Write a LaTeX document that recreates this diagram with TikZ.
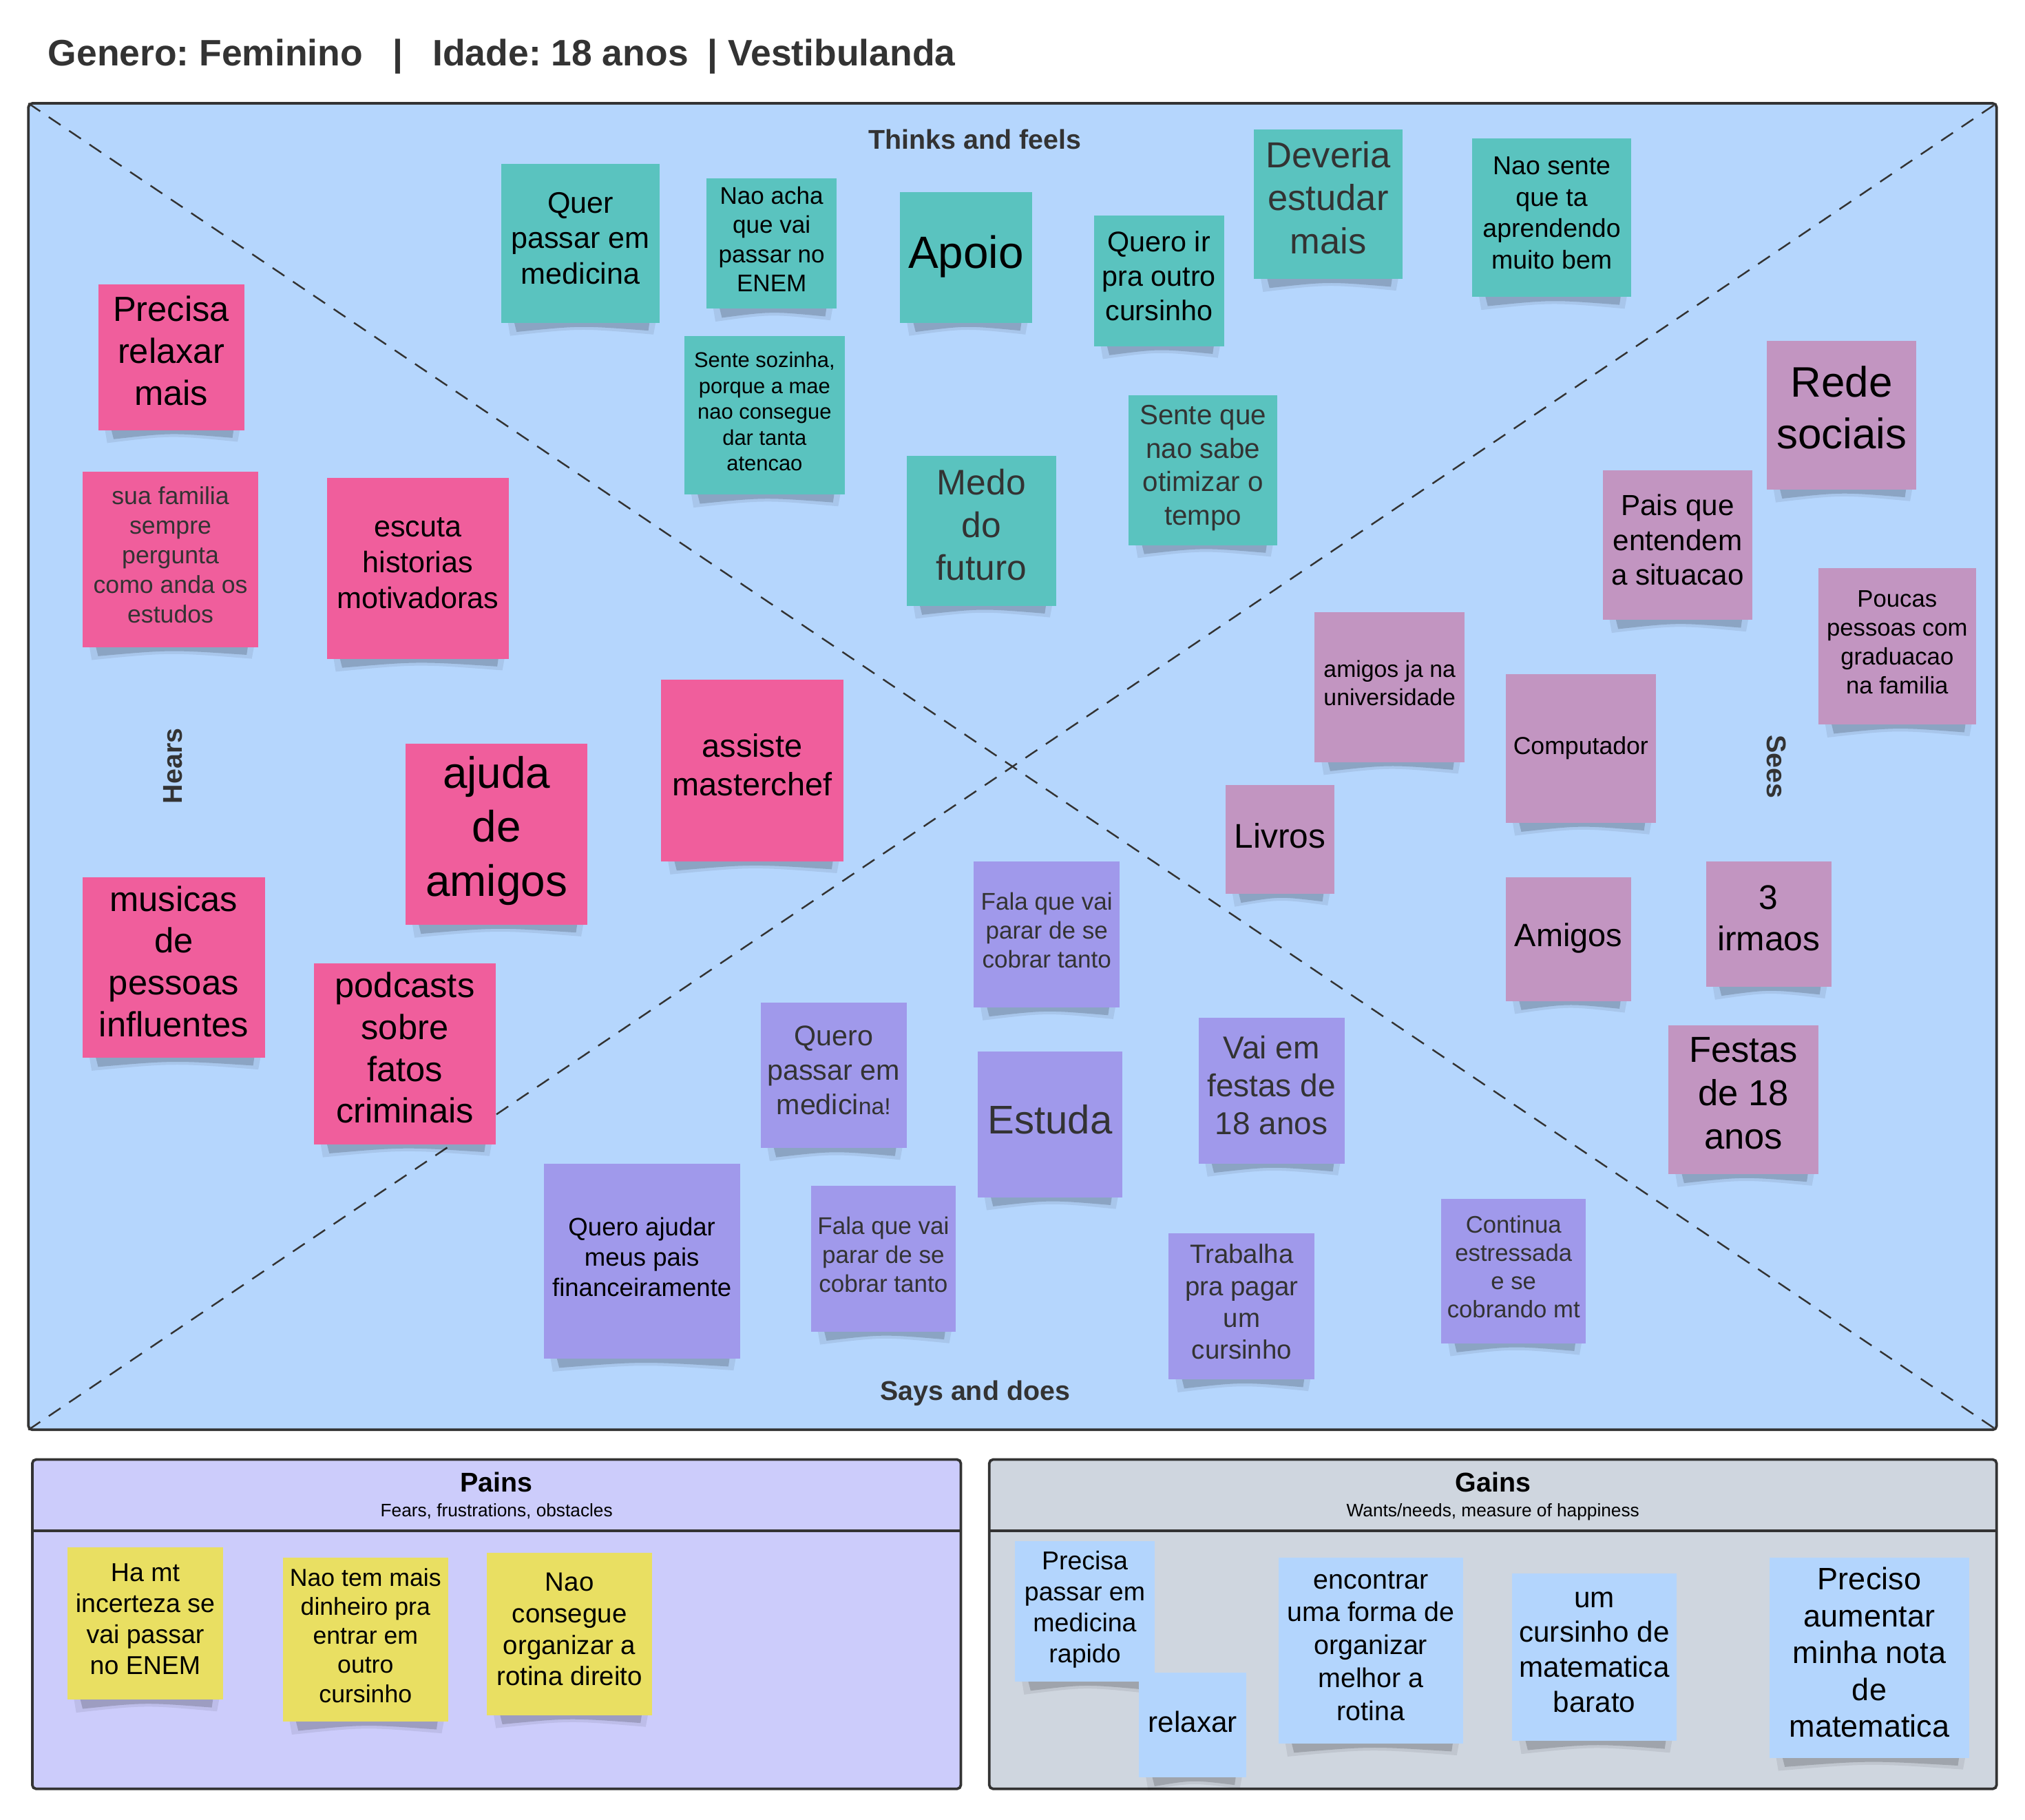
\documentclass[tikz,border=0pt]{standalone}
\usepackage{fontspec}
\setmainfont{Liberation Sans}
\frenchspacing
\definecolor{bgblue}{HTML}{B5D6FD}
\definecolor{tealc}{HTML}{5AC3BF}
\definecolor{pinkc}{HTML}{F05E9C}
\definecolor{mauvec}{HTML}{C295C1}
\definecolor{purpc}{HTML}{A099EB}
\definecolor{yellowc}{HTML}{E9DF62}
\definecolor{painsc}{HTML}{CCCCFB}
\definecolor{gainsc}{HTML}{CFD6DF}
\definecolor{gnotec}{HTML}{B3D5FD}
\definecolor{linec}{HTML}{333333}
\definecolor{txtg}{HTML}{333333}
\tikzset{
  stickybox/.style={rectangle,inner sep=0pt,align=center,text=black,
    execute at begin node=\strut, execute at end node=\strut},
  boxline/.style={draw=linec,line width=2pt},
  dashline/.style={draw=linec,line width=1.3pt,dash pattern=on 11pt off 8pt},
  sectionlabel/.style={font=\fontsize{21}{25}\selectfont\bfseries,text=txtg},
  shadowc/.style={fill=black}
}
\newcommand{\sticky}[8]{%
  \fill[shadowc,opacity=0.07] ({#2+5},{#5-2}) -- ({#4-3},{#5-2}) -- ({#4-5},{#5+9}) .. controls ({(#2+#4)/2},{#5+4}) .. ({#2+7},{#5+10}) -- cycle;
  \fill[shadowc,opacity=0.17] ({#2+10},{#5-1}) -- ({#4-8},{#5-1}) -- ({#4-9},{#5+6}) .. controls ({(#2+#4)/2},{#5+2}) .. ({#2+12},{#5+7}) -- cycle;
  \node[stickybox,fill=#6,minimum width={(#4-#2)*1pt},minimum height={(#5-#3)*1pt},#7] (#1) at ({(#2+#4)/2},{(#3+#5)/2}) {#8};
}
\begin{document}
\begin{tikzpicture}[x=1pt,y=-1pt]
\useasboundingbox[fill=white] (0,0) rectangle (1568,1409);

% title
\node[anchor=base west,inner sep=0pt,text=txtg,font=\fontsize{28.5}{33}\selectfont\bfseries] (title) at (37,51)
  {Genero: Feminino\hspace{23pt}|\hspace{23pt}Idade: 18 anos\hspace{15pt}| Vestibulanda};

% main empathy box
\coordinate (tl) at (22,80);
\coordinate (tr) at (1546,80);
\coordinate (bl) at (22,1107);
\coordinate (br) at (1546,1107);
\draw[boxline,fill=bgblue,rounded corners=3pt] (tl) rectangle (br);
\draw[dashline] (tl) -- (br);
\draw[dashline] (bl) -- (tr);

\node[sectionlabel,anchor=base,inner sep=0pt] (thinks) at (755,115.5) {Thinks and feels};
\node[sectionlabel,anchor=base,inner sep=0pt] (says) at (755,1084) {Says and does};
\node[sectionlabel,rotate=90,inner sep=0pt] (hears) at (134,593) {Hears};
\node[sectionlabel,rotate=-90,inner sep=0pt] (sees) at (1375.5,593.5) {Sees};

% Pains / Gains boxes
\draw[boxline,fill=painsc,rounded corners=3pt] (25,1130) rectangle (744,1385);
\draw[boxline] (25,1185) -- (744,1185);
\node[anchor=base,inner sep=0pt,font=\fontsize{21}{25}\selectfont\bfseries] (pains) at (384.5,1155) {Pains};
\node[anchor=base,inner sep=0pt,font=\fontsize{14}{17}\selectfont] (painssub) at (384.5,1174) {Fears, frustrations, obstacles};

\draw[boxline,fill=gainsc,rounded corners=3pt] (766,1130) rectangle (1546,1385);
\draw[boxline] (766,1185) -- (1546,1185);
\node[anchor=base,inner sep=0pt,font=\fontsize{21}{25}\selectfont\bfseries] (gains) at (1156,1155) {Gains};
\node[anchor=base,inner sep=0pt,font=\fontsize{14}{17}\selectfont] (gainssub) at (1156,1174) {Wants/needs, measure of happiness};

% Thinks and feels
\sticky{t1}{388}{127}{511}{250}{tealc}{font=\fontsize{23}{27.5}\selectfont}{Quer\\passar em\\medicina}
\sticky{t2}{547}{138}{648}{239}{tealc}{font=\fontsize{18.7}{22.7}\selectfont}{Nao acha\\que vai\\passar no\\ENEM}
\sticky{t3}{697}{149}{799}{250}{tealc}{font=\fontsize{35}{42}\selectfont}{Apoio}
\sticky{t4}{847}{167}{948}{268}{tealc}{font=\fontsize{22}{26.5}\selectfont}{Quero ir\\pra outro\\cursinho}
\sticky{t5}{971}{100}{1086}{216}{tealc}{font=\fontsize{28}{33.5}\selectfont,text=txtg}{Deveria\\estudar\\mais}
\sticky{t6}{1140}{107}{1263}{230}{tealc}{font=\fontsize{20}{24.3}\selectfont}{Nao sente\\que ta\\aprendendo\\muito bem}
\sticky{t7}{530}{260}{654}{383}{tealc}{font=\fontsize{16.5}{20}\selectfont}{Sente sozinha,\\porque a mae\\nao consegue\\dar tanta\\atencao}
\sticky{t8}{702}{353}{818}{469}{tealc}{font=\fontsize{27.5}{33}\selectfont,text=txtg}{Medo\\do\\futuro}
\sticky{t9}{874}{306}{989}{422}{tealc}{font=\fontsize{21.5}{26}\selectfont,text=txtg}{Sente que\\nao sabe\\otimizar o\\tempo}

% Hears
\sticky{h1}{76}{220}{189}{333}{pinkc}{font=\fontsize{27}{32.5}\selectfont}{Precisa\\relaxar\\mais}
\sticky{h2}{64}{365}{200}{501}{pinkc}{font=\fontsize{19}{23}\selectfont,text=txtg}{sua familia\\sempre\\pergunta\\como anda os\\estudos}
\sticky{h3}{253}{370}{394}{510}{pinkc}{font=\fontsize{23}{27.5}\selectfont}{escuta\\historias\\motivadoras}
\sticky{h4}{314}{576}{455}{716}{pinkc}{font=\fontsize{34}{42}\selectfont}{ajuda\\de\\amigos}
\sticky{h5}{512}{526}{653}{667}{pinkc}{font=\fontsize{25}{30}\selectfont}{assiste\\masterchef}
\sticky{h6}{64}{679}{205}{819}{pinkc}{font=\fontsize{27}{32.3}\selectfont}{musicas\\de\\pessoas\\influentes}
\sticky{h7}{243}{746}{384}{886}{pinkc}{font=\fontsize{27}{32.3}\selectfont}{podcasts\\sobre\\fatos\\criminais}

% Sees
\sticky{s1}{1368}{264}{1484}{379}{mauvec}{font=\fontsize{33}{40}\selectfont}{Rede\\sociais}
\sticky{s2}{1241}{364}{1357}{480}{mauvec}{font=\fontsize{22.5}{27}\selectfont}{Pais que\\entendem\\a situacao}
\sticky{s3}{1408}{440}{1530}{561}{mauvec}{font=\fontsize{18.5}{22.5}\selectfont}{Poucas\\pessoas com\\graduacao\\na familia}
\sticky{s4}{1018}{474}{1134}{590}{mauvec}{font=\fontsize{18}{22}\selectfont}{amigos ja na\\universidade}
\sticky{s5}{1166}{522}{1282}{637}{mauvec}{font=\fontsize{19}{23}\selectfont}{Computador}
\sticky{s6}{949}{608}{1033}{692}{mauvec}{font=\fontsize{26.5}{32}\selectfont}{Livros}
\sticky{s7}{1166}{679}{1263}{775}{mauvec}{font=\fontsize{25}{30}\selectfont}{Amigos}
\sticky{s8}{1321}{667}{1418}{764}{mauvec}{font=\fontsize{26.5}{32}\selectfont}{3\\irmaos}
\sticky{s9}{1292}{794}{1408}{909}{mauvec}{font=\fontsize{28}{33.5}\selectfont}{Festas\\de 18\\anos}

% Says and does
\sticky{d1}{754}{667}{867}{780}{purpc}{font=\fontsize{18.7}{22.5}\selectfont,text=txtg}{Fala que vai\\parar de se\\cobrar tanto}
\sticky{d2}{589}{776}{702}{889}{purpc}{font=\fontsize{22}{26.5}\selectfont,text=txtg}{Quero\\passar em\\medici{\fontsize{18}{26.5}\selectfont na!}}
\sticky{d3}{757}{814}{869}{927}{purpc}{font=\fontsize{31}{37}\selectfont,text=txtg}{Estuda}
\sticky{d4}{928}{788}{1041}{901}{purpc}{font=\fontsize{24.5}{29.5}\selectfont,text=txtg}{Vai em\\festas de\\18 anos}
\sticky{d5}{421}{901}{573}{1052}{purpc}{font=\fontsize{19.5}{23.5}\selectfont}{Quero ajudar\\meus pais\\financeiramente}
\sticky{d6}{628}{918}{740}{1031}{purpc}{font=\fontsize{18.7}{22.5}\selectfont,text=txtg}{Fala que vai\\parar de se\\cobrar tanto}
\sticky{d7}{905}{955}{1018}{1068}{purpc}{font=\fontsize{20.5}{24.7}\selectfont,text=txtg}{Trabalha\\pra pagar\\um\\cursinho}
\sticky{d8}{1116}{928}{1228}{1040}{purpc}{font=\fontsize{18.5}{22}\selectfont,text=txtg}{Continua\\estressada\\e se\\cobrando mt}

% Pains notes
\sticky{p1}{52}{1198}{173}{1316}{yellowc}{font=\fontsize{20}{24}\selectfont}{Ha mt\\incerteza se\\vai passar\\no ENEM}
\sticky{p2}{219}{1206}{347}{1333}{yellowc}{font=\fontsize{19}{22.5}\selectfont}{Nao tem mais\\dinheiro pra\\entrar em\\outro\\cursinho}
\sticky{p3}{377}{1202}{505}{1328}{yellowc}{font=\fontsize{20.5}{24.5}\selectfont}{Nao\\consegue\\organizar a\\rotina direito}

% Gains notes
\sticky{g1}{786}{1193}{894}{1302}{gnotec}{font=\fontsize{20}{24}\selectfont}{Precisa\\passar em\\medicina\\rapido}
\sticky{g2}{882}{1295}{965}{1376}{gnotec}{font=\fontsize{22.5}{27}\selectfont}{relaxar}
\sticky{g3}{990}{1206}{1133}{1350}{gnotec}{font=\fontsize{21}{25.5}\selectfont}{encontrar\\uma forma de\\organizar\\melhor a\\rotina}
\sticky{g4}{1171}{1218}{1298}{1348}{gnotec}{font=\fontsize{22.5}{27}\selectfont}{um\\cursinho de\\matematica\\barato}
\sticky{g5}{1370}{1206}{1525}{1361}{gnotec}{font=\fontsize{24}{28.5}\selectfont}{Preciso\\aumentar\\minha nota\\de\\matematica}
\end{tikzpicture}
\end{document}
